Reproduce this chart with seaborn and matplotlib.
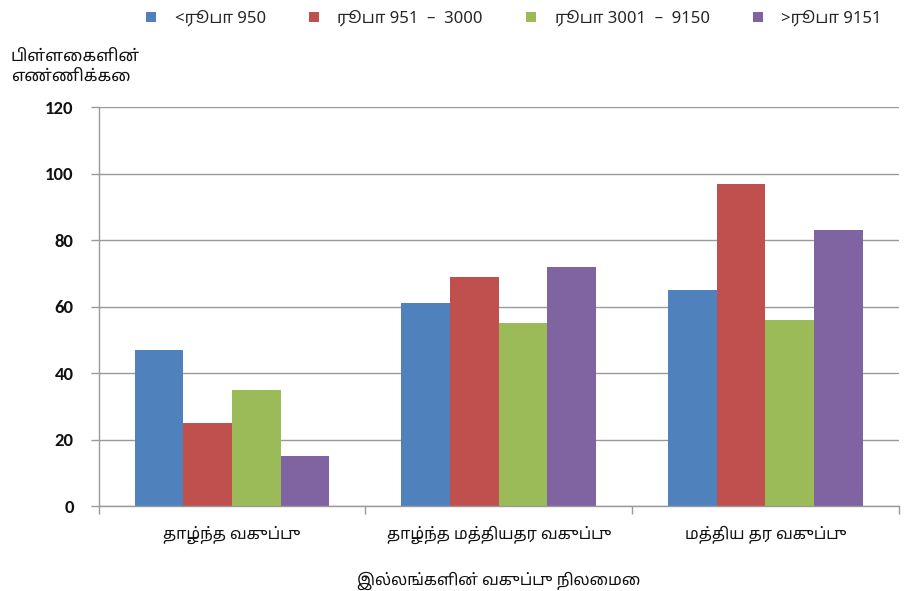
import matplotlib
matplotlib.use("Agg")
import matplotlib.pyplot as plt
import seaborn as sns
import pandas as pd

categories = ["தாழ்ந்த வகுப்பு", "தாழ்ந்த மத்தியதர வகுப்பு", "மத்திய தர வகுப்பு"]
series_names = ["<ரூபா 950", "ரூபா 951  –  3000", "ரூபா 3001  –  9150", ">ரூபா 9151"]
v_lt950 = [47, 61, 65]
v_951_3000 = [25, 69, 97]
v_3001_9150 = [35, 55, 56]
v_gt9151 = [15, 72, 83]
y_ticks = [0, 20, 40, 60, 80, 100, 120]
colors = ["#4F81BD", "#C0504D", "#9BBB59", "#8064A2"]

rows = []
for name, vals in zip(series_names, [v_lt950, v_951_3000, v_3001_9150, v_gt9151]):
    for c, v in zip(categories, vals):
        rows.append({"cat": c, "series": name, "value": v})
df = pd.DataFrame(rows)

sns.set_theme(style="white")
TAMIL = ["Noto Sans Tamil", "DejaVu Sans"]
plt.rcParams["font.family"] = TAMIL

fig = plt.figure(figsize=(9.06, 5.91), dpi=100)
ax = fig.add_axes([0.109, 0.1438, 0.883, 0.675])

sns.barplot(data=df, x="cat", y="value", hue="series", order=categories,
            hue_order=series_names, palette=colors, width=0.73, gap=0,
            saturation=1, ax=ax, legend=True, edgecolor="none", linewidth=0)

ax.set_ylim(0, 120)
ax.set_xlim(-0.5, 2.5)
ax.set_yticks(y_ticks)
ax.set_yticklabels([str(t) for t in y_ticks], fontsize=13.5, fontweight="bold",
                   family=["Carlito", "Liberation Sans", "DejaVu Sans"], color="#111111")
ax.yaxis.grid(True, color="#999999", linewidth=1)
ax.set_axisbelow(True)
ax.set_xticks([0, 1, 2])
ax.set_xticklabels(categories, fontsize=11.5, color="#111111")
ax.tick_params(axis="x", length=0, pad=14)
ax.tick_params(axis="y", length=6, width=1, color="#999999", direction="out", left=True, pad=12)
ax.set_xticks([-0.5, 0.5, 1.5, 2.5], minor=True)
ax.tick_params(axis="x", which="minor", length=6, width=1, color="#999999", direction="out", bottom=True)
for s in ["top", "right"]:
    ax.spines[s].set_visible(False)
for s in ["left", "bottom"]:
    ax.spines[s].set_color("#999999")
    ax.spines[s].set_linewidth(1)
ax.set_xlabel("இல்லங்களின் வகுப்பு நிலைமை", fontsize=11.5, labelpad=20, color="#111111")
ax.set_ylabel("")

handles, labels = ax.get_legend_handles_labels()
ax.get_legend().remove()
fig.legend(handles, labels, loc="upper left", bbox_to_anchor=(0.145, 1.008), ncol=4,
           frameon=False, fontsize=12, handlelength=0.6, handleheight=0.6,
           columnspacing=2.6, handletextpad=1.1)

fig.text(0.012, 0.918, "பிள்ளைகளின்\nஎண்ணிக்கை", fontsize=12, va="top", ha="left",
         color="#111111", linespacing=1.4)

fig.savefig("out.png", dpi=100)
